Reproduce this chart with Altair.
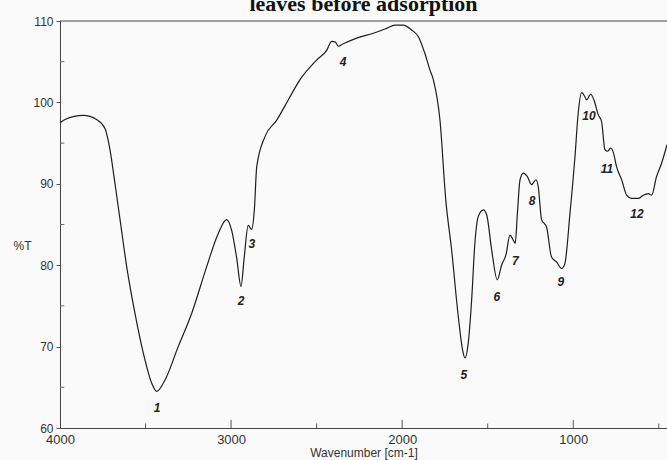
import altair as alt
import pandas as pd

# Spectrum (wavenumber cm-1, %T)
wavenumber = [4000, 3971, 3864, 3786, 3737, 3708, 3679, 3649, 3610, 3562, 3513, 3464, 3435,
              3386, 3309, 3230, 3143, 3075, 3026, 2997, 2968, 2942, 2923, 2900, 2880, 2864,
              2850, 2802, 2734, 2666, 2597, 2500, 2441, 2412, 2390, 2373, 2344, 2266, 2169,
              2091, 2042, 1994, 1945, 1906, 1867, 1838, 1818, 1779, 1745, 1711, 1672, 1647,
              1633, 1614, 1594, 1575, 1555, 1526, 1506, 1477, 1444, 1419, 1393, 1370, 1351,
              1339, 1327, 1311, 1292, 1269, 1243, 1218, 1205, 1185, 1156, 1127, 1098, 1068,
              1049, 1019, 990, 971, 951, 932, 922, 898, 879, 854, 834, 815, 799, 782, 765,
              747, 717, 688, 659, 620, 591, 562, 542, 513, 484, 452]
transmittance = [97.5, 97.9, 98.4, 97.9, 96.8, 94.2, 90.1, 85.6, 79.8, 74.1, 69.2, 65.5, 64.5,
                 65.9, 70.0, 74.1, 79.8, 83.9, 85.6, 84.3, 81.0, 77.4, 81.0, 84.9, 84.4, 86.8,
                 92.1, 95.8, 97.8, 100.3, 102.8, 105.2, 106.4, 107.5, 107.4, 106.9, 107.2, 107.9, 108.5,
                 109.1, 109.5, 109.5, 108.9, 108.1, 106.0, 104.0, 102.8, 97.8, 88.0, 81.9, 73.7, 69.6,
                 68.6, 70.4, 75.7, 82.7, 86.0, 86.8, 86.2, 81.9, 78.2, 80.0, 81.3, 83.7, 83.1,
                 82.7, 86.2, 90.5, 91.3, 90.9, 89.9, 90.5, 89.7, 85.6, 84.7, 81.0, 80.4, 79.6,
                 80.2, 86.4, 93.3, 98.7, 101.2, 100.7, 100.3, 101.0, 100.3, 98.5, 97.6, 94.2, 94.0, 94.4, 93.8,
                 92.1, 90.5, 88.6, 88.2, 88.2, 88.6, 88.8, 88.6, 90.9, 92.5, 94.8]

# Peak labels
peak_names = ["1", "2", "3", "4", "5", "6", "7", "8", "9", "10", "11", "12"]
peak_wn = [3433, 2942, 2878, 2346, 1639, 1446, 1339, 1241, 1072, 908, 803, 628]
peak_t = [62.5, 75.6, 82.6, 105.0, 66.5, 76.1, 80.5, 87.9, 77.9, 98.3, 91.8, 86.3]

x_labels = [4000, 3000, 2000, 1000]
x_ticks = [3500, 3000, 2500, 2000, 1500, 1000, 500]
y_labels = [60, 70, 80, 90, 100, 110]
y_minor = [65, 75, 85, 95, 105]

spec = pd.DataFrame({"wn": wavenumber, "t": transmittance})
peaks = pd.DataFrame({"wn": peak_wn, "t": peak_t, "name": peak_names})
xt = pd.DataFrame({"wn": x_ticks})
xt["y0"] = 60
xt["y1"] = [60 + (1.0 if v % 1000 == 0 else 0.55) for v in x_ticks]
ym = pd.DataFrame({"t": y_minor})
ym["x0"] = 4000
ym["x1"] = 3975

FONT = "Liberation Sans"

xscale = alt.Scale(domain=[4000, 452], nice=False, zero=False)
yscale = alt.Scale(domain=[60, 110], nice=False, zero=False)

line = alt.Chart(spec).mark_line(color="#1e1e1e", strokeWidth=1.2, interpolate="monotone").encode(
    x=alt.X("wn:Q", scale=xscale,
            axis=alt.Axis(values=x_labels, format="d", tickSize=0, grid=False, labelFont=FONT,
                          labelFontSize=13, labelColor="#333", labelPadding=5, domainColor="#444",
                          title="Wavenumber [cm-1]", titleFont=FONT, titleFontSize=12,
                          titleFontWeight="normal", titleColor="#333", titleY=24,
                          titleBaseline="middle", labelFlush=False)),
    y=alt.Y("t:Q", scale=yscale,
            axis=alt.Axis(values=y_labels, tickSize=4, tickColor="#555", grid=False, labelFont=FONT,
                          labelFontSize=12, labelColor="#333", labelPadding=3, domainColor="#444",
                          title="%T", titleAngle=0, titleX=-38, titleY=224, titleAlign="center",
                          titleBaseline="middle", titleFont=FONT, titleFontSize=12,
                          titleFontWeight="normal", titleColor="#333")),
)

labels = alt.Chart(peaks).mark_text(font=FONT, fontStyle="italic", fontWeight="bold", fontSize=12,
                                    color="#222").encode(x="wn:Q", y="t:Q", text="name:N")

xtick_rules = alt.Chart(xt).mark_rule(color="#555", strokeWidth=1).encode(
    x="wn:Q", y="y0:Q", y2="y1:Q")

ytick_rules = alt.Chart(ym).mark_rule(color="#666", strokeWidth=1).encode(
    y="t:Q", x="x0:Q", x2="x1:Q")

top_rule = alt.Chart(pd.DataFrame({"t": [110]})).mark_rule(color="#444", strokeWidth=1.2).encode(
    y="t:Q")

chart = alt.layer(line, labels, xtick_rules, ytick_rules, top_rule).properties(
    width=607, height=407,
    autosize="none",
    padding={"left": 60, "top": 21, "right": 0, "bottom": 32},
    background="#fafafa",
    title=alt.TitleParams("leaves before adsorption", font="Liberation Serif", fontSize=22,
                          fontWeight="bold", color="#111", anchor="middle", offset=6,
                          baseline="alphabetic", dy=24),
).configure_view(stroke=None)

chart.save("out.html", embed_options={"renderer": "svg", "actions": False})
